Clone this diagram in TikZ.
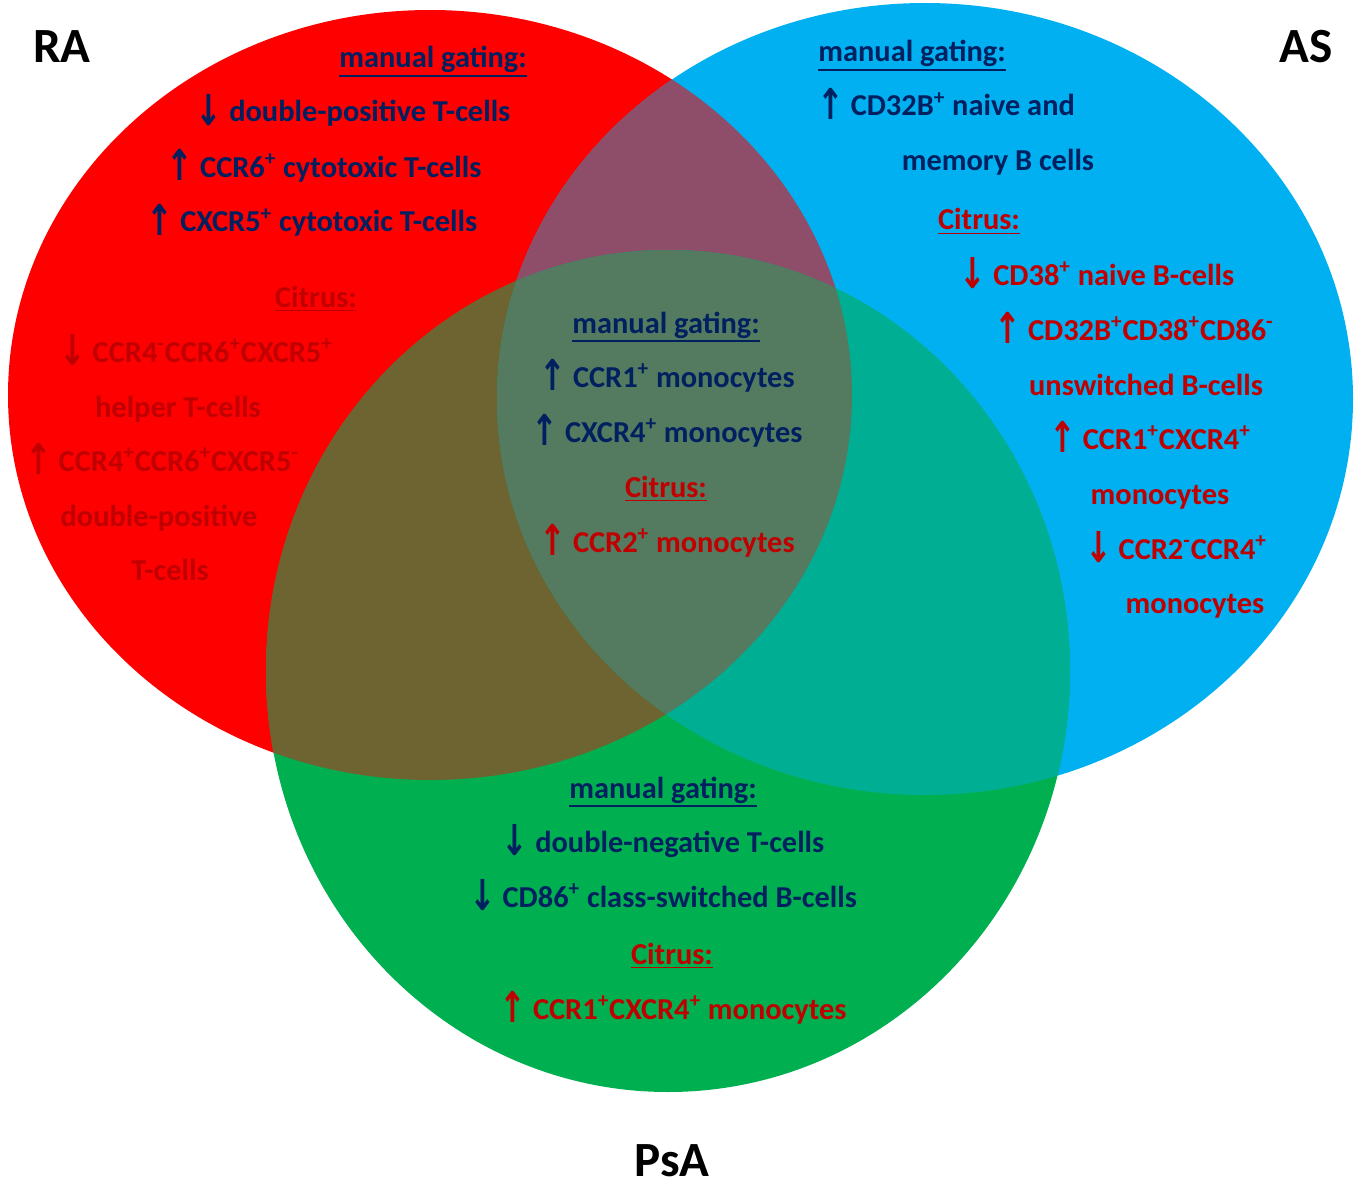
\documentclass[tikz,border=0pt]{standalone}
\usepackage{fontspec}
\setmainfont{Carlito}
\newfontfamily\arrowfont{DejaVu Sans}
\usepackage{xcolor}
\usepackage{graphicx}
\usepackage{tikz}
\usetikzlibrary{positioning}
\definecolor{xred}{HTML}{FF0000}
\definecolor{xblue}{HTML}{00B0F0}
\definecolor{xgreen}{HTML}{00B050}
\definecolor{xredblue}{HTML}{8E4D68}
\definecolor{xredgreen}{HTML}{6E6431}
\definecolor{xbluegreen}{HTML}{00AE93}
\definecolor{xcentre}{HTML}{547A60}
\definecolor{xnavy}{HTML}{002060}
\definecolor{xdred}{HTML}{C00000}
\newcommand{\arrup}{\raisebox{-0.12em}{\scalebox{1.05}[1.4]{\arrowfont\char"2191}}}
\newcommand{\arrdn}{\raisebox{-0.12em}{\scalebox{1.05}[1.4]{\arrowfont\char"2193}}}
\newcommand{\ulhead}[1]{\setbox0=\hbox{#1}\rlap{\rule[-\dimexpr\dp0+2.4pt\relax]{\wd0}{1.1pt}}\box0}
\def\redset{(430,395) ellipse [x radius=422, y radius=385]}
\def\blueset{(925,399) ellipse [x radius=428, y radius=396]}
\def\greenset{(668,671) ellipse [x radius=402, y radius=421]}

\begin{document}
\begin{tikzpicture}[
    x=0.02cm, y=-0.02cm,
    txt/.style={anchor=base, inner sep=0pt, font=\bfseries\fontsize{17.3}{20}\selectfont},
    gate/.style={txt, text=xnavy},
    citr/.style={txt, text=xdred},
    setname/.style={anchor=base, inner sep=0pt, font=\bfseries\fontsize{28}{32}\selectfont},
]
\useasboundingbox (0,0) rectangle (1360,1186);

% Sets
\fill[xred] \redset;
\fill[xblue] \blueset;
\fill[xgreen] \greenset;
\begin{scope}
  \clip \redset;
  \fill[xredblue] \blueset;
  \fill[xredgreen] \greenset;
\end{scope}
\begin{scope}
  \clip \blueset;
  \fill[xbluegreen] \greenset;
\end{scope}
\begin{scope}
  \clip \redset;
  \clip \blueset;
  \fill[xcentre] \greenset;
\end{scope}

% Set names
\node[setname] (ra) at (62,63) {RA};
\node[setname] (as) at (1306,63) {AS};
\node[setname] (psa) at (672,1176) {PsA};

% RA only
\node[gate] (ramg) at (433,68) {\ulhead{manual gating:}};
\node[gate] (radp) at (353,122) {\arrdn{} double-positive T-cells};
\node[gate] (raccr6) at (324,177) {\arrup{} CCR6\textsuperscript{+} cytotoxic T-cells};
\node[gate] (racxcr5) at (312,232) {\arrup{} CXCR5\textsuperscript{+} cytotoxic T-cells};
\node[citr] (racit) at (316,307) {\ulhead{Citrus:}};
\node[citr] (rahelp) at (196,362) {\arrdn{} CCR4\textsuperscript{-}CCR6\textsuperscript{+}CXCR5\textsuperscript{+}};
\node[citr] (rahelpb) at (178,417) {helper T-cells};
\node[citr] (radpos) at (162,471) {\arrup{} CCR4\textsuperscript{+}CCR6\textsuperscript{+}CXCR5\textsuperscript{-}};
\node[citr] (radposb) at (159,526) {double-positive};
\node[citr] (radposc) at (170,580) {T-cells};

% AS only
\node[gate] (asmg) at (912,62) {\ulhead{manual gating:}};
\node[gate] (ascd32) at (946,116) {\arrup{} CD32B\textsuperscript{+} naive and};
\node[gate] (ascd32b) at (998,171) {memory B cells};
\node[citr] (ascit) at (979,230) {\ulhead{Citrus:}};
\node[citr] (ascd38) at (1097,285) {\arrdn{} CD38\textsuperscript{+} naive B-cells};
\node[citr] (asunsw) at (1134,340) {\arrup{} CD32B\textsuperscript{+}CD38\textsuperscript{+}CD86\textsuperscript{-}};
\node[citr] (asunswb) at (1146,395) {unswitched B-cells};
\node[citr] (asccr1) at (1150,449) {\arrup{} CCR1\textsuperscript{+}CXCR4\textsuperscript{+}};
\node[citr] (asccr1b) at (1160,504) {monocytes};
\node[citr] (asccr2) at (1176,559) {\arrdn{} CCR2\textsuperscript{-}CCR4\textsuperscript{+}};
\node[citr] (asccr2b) at (1195,613) {monocytes};

% All three
\node[gate] (allmg) at (666,333) {\ulhead{manual gating:}};
\node[gate] (allccr1) at (667,387) {\arrup{} CCR1\textsuperscript{+} monocytes};
\node[gate] (allcxcr4) at (667,442) {\arrup{} CXCR4\textsuperscript{+} monocytes};
\node[citr] (allcit) at (666,497) {\ulhead{Citrus:}};
\node[citr] (allccr2) at (667,552) {\arrup{} CCR2\textsuperscript{+} monocytes};

% PsA only
\node[gate] (psamg) at (663,798) {\ulhead{manual gating:}};
\node[gate] (psadn) at (663,852) {\arrdn{} double-negative T-cells};
\node[gate] (psacd86) at (663,907) {\arrdn{} CD86\textsuperscript{+} class-switched B-cells};
\node[citr] (psacit) at (672,964) {\ulhead{Citrus:}};
\node[citr] (psaccr1) at (673,1019) {\arrup{} CCR1\textsuperscript{+}CXCR4\textsuperscript{+} monocytes};

\end{tikzpicture}
\end{document}
